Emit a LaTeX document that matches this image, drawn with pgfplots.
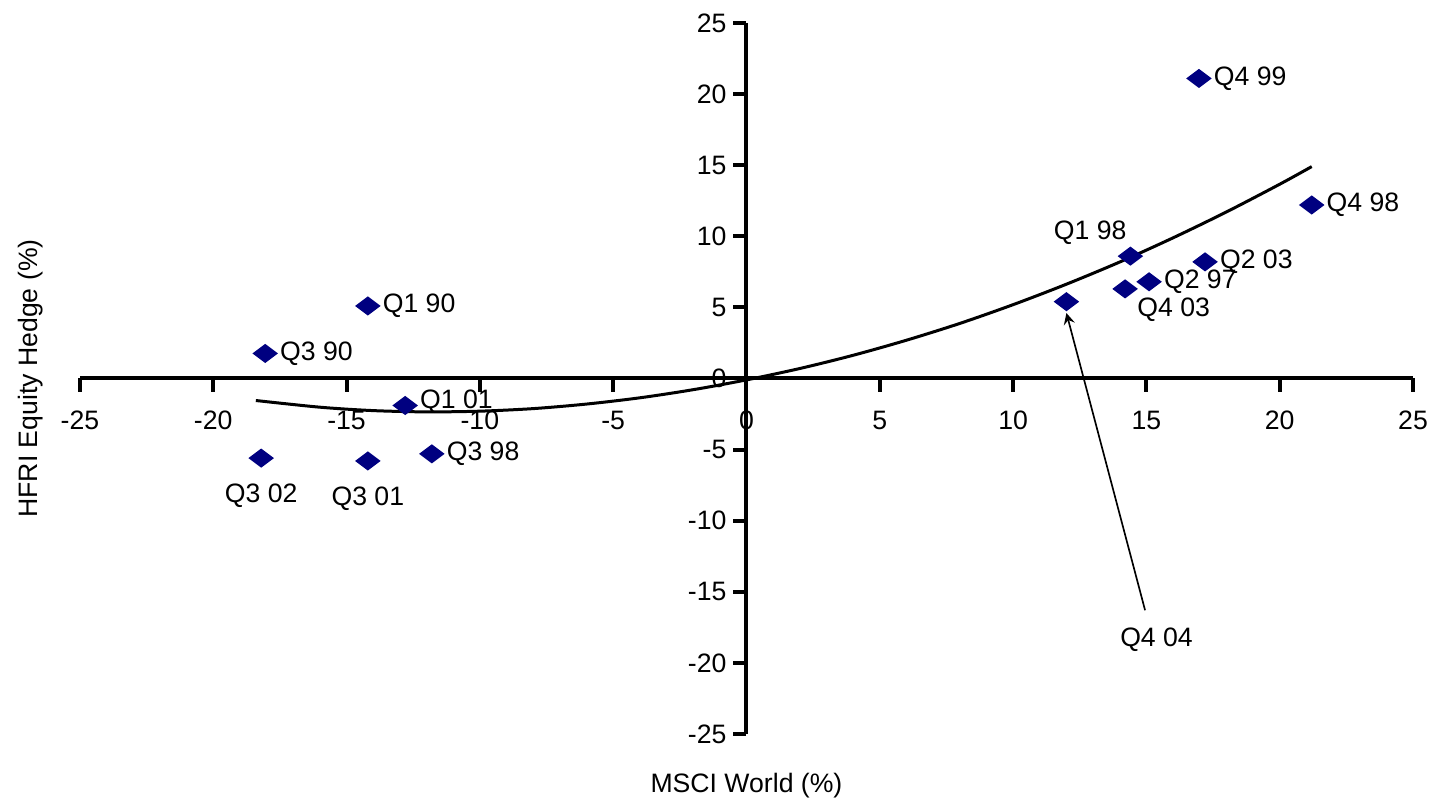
\documentclass[border=0pt]{standalone}
\usepackage{fontspec}
\setmainfont{Liberation Sans}
\usepackage{pgfplots}
\pgfplotsset{compat=1.18}
\usetikzlibrary{calc}
\definecolor{ptnavy}{RGB}{0,0,128}
\pgfplotsset{pts/.style={only marks, mark=diamond*, mark size=3.5pt, color=ptnavy,
  mark options={rotate=90}, nodes near coords, point meta=explicit symbolic}}

\begin{document}
\begin{tikzpicture}[font=\fontsize{8}{9.6}\selectfont]
\begin{axis}[
  name=ax,
  scale only axis,
  width=400.5pt, height=213.6pt,
  xmin=-25, xmax=25, ymin=-25, ymax=25,
  axis lines=middle,
  axis line style={line width=1.2pt, -},
  xtick={-25,-20,...,25}, ytick={-25,-20,...,25},
  tick align=outside,
  major tick length=4pt,
  tick style={line width=1.2pt, black},
  hide obscured x ticks=false, hide obscured y ticks=false,
  /pgf/number format/assume math mode=true,
  ticklabel style={font=\fontsize{8}{9.6}\selectfont},
  xticklabel style={yshift=-2.2pt},
  yticklabel style={xshift=1.5pt},
  xlabel={MSCI World (\%)},
  ylabel={HFRI Equity Hedge (\%)},
  xlabel style={at={(rel axis cs:0.5,0)}, anchor=north, inner sep=0pt, yshift=-11.5pt},
  ylabel style={at={(rel axis cs:0,0.5)}, rotate=90, anchor=south, inner sep=0pt, yshift=11pt},
  clip=false,
]
% fitted trend
\addplot[black, line width=0.9pt, smooth] coordinates {
  (-18.4,-1.55) (-16,-2.02) (-14,-2.26) (-12,-2.35) (-10,-2.30) (-8,-2.12)
  (-6,-1.80) (-4,-1.36) (-2,-0.79) (0,-0.10) (2,0.70) (4,1.63) (6,2.69)
  (8,3.87) (10,5.19) (12,6.63) (14,8.19) (16,9.89) (18,11.71) (20,13.66) (21.2,14.90)
};
\draw[line width=0.5pt, -stealth] (axis cs:14.95,-16.3) -- (axis cs:12.0,4.6);
\node at (axis cs:15.38,-18.4) {Q4 04};

% labels to the right
\addplot[pts, nodes near coords style={anchor=west, xshift=4.3pt, inner sep=0pt, black}]
  table[col sep=comma, meta=label] {
x,y,label
16.97,21.1,Q4 99
21.2,12.2,Q4 98
17.2,8.2,Q2 03
15.1,6.8,Q2 97
-14.2,5.1,Q1 90
-18.05,1.76,Q3 90
-11.8,-5.3,Q3 98
};
\addplot[pts, nodes near coords style={anchor=west, xshift=4.3pt, yshift=1pt, inner sep=0pt, black}]
  table[col sep=comma, meta=label] {
x,y,label
-12.8,-1.9,Q1 01
};
% labels below
\addplot[pts, nodes near coords style={anchor=north, yshift=-7.5pt, inner sep=0pt, black}]
  table[col sep=comma, meta=label] {
x,y,label
-18.2,-5.6,Q3 02
-14.2,-5.8,Q3 01
};
\addplot[pts, nodes near coords style={anchor=south east, xshift=-1pt, yshift=3.3pt, inner sep=0pt, black}]
  table[col sep=comma, meta=label] {
x,y,label
14.4,8.6,Q1 98
};
\addplot[pts, nodes near coords style={anchor=north west, xshift=3.5pt, yshift=-2.5pt, inner sep=0pt, black}]
  table[col sep=comma, meta=label] {
x,y,label
14.2,6.3,Q4 03
};
\addplot[only marks, mark=diamond*, mark size=3.5pt, ptnavy, mark options={rotate=90}] coordinates {(12.0,5.4)};
\end{axis}
\pgfresetboundingbox
\path (ax.south west) ++(-24pt,-19.2pt) rectangle ($(ax.north east)+(5.4pt,6.9pt)$);
\end{tikzpicture}
\end{document}
